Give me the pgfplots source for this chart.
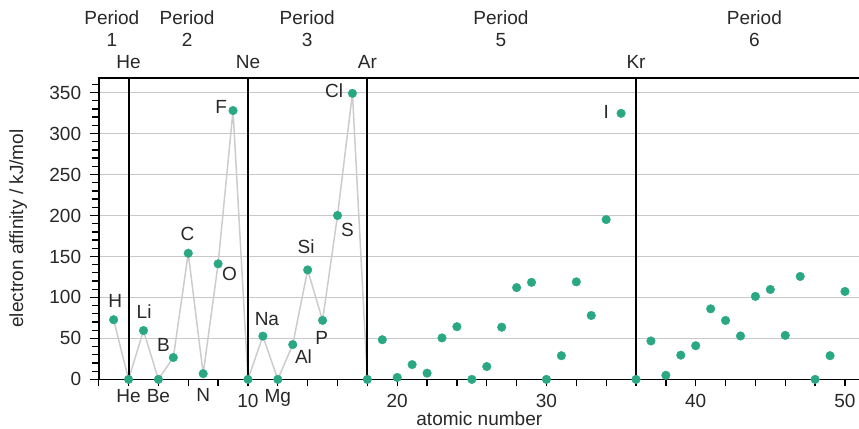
\documentclass[border=0pt]{standalone}
\usepackage{fontspec}
\setmainfont{Liberation Sans}
\usepackage{pgfplots}
\usepackage{pgfplotstable}
\pgfplotsset{compat=1.18}

\definecolor{ptgreen}{RGB}{42,168,132}
\definecolor{linegray}{RGB}{204,204,204}
\definecolor{gridgray}{RGB}{200,200,200}
\definecolor{txt}{RGB}{40,40,40}
\newcommand\dn[1]{\rule{0pt}{18.5pt}#1}

% atomic number, electron affinity (kJ/mol)
\pgfplotstableread{
z ea
1 72.8
2 0
3 59.6
4 0
5 26.7
6 153.9
7 7
8 141
9 328
10 0
11 52.8
12 0
13 42.5
14 133.6
15 72
16 200
17 349
18 0
19 48.4
20 2.4
21 18.1
22 7.6
23 50.6
24 64.3
25 0
26 15.7
27 63.7
28 112
29 118.4
30 0
31 28.9
32 119
33 78
34 195
35 324.6
36 0
37 46.9
38 5
39 29.6
40 41.1
41 86.1
42 71.9
43 53
44 101.3
45 109.7
46 53.7
47 125.6
48 0
49 28.9
50 107.3
}\eadata

\begin{document}
\fontsize{19}{22}\selectfont
\begin{tikzpicture}[every node/.style={text=txt}]
\begin{axis}[
  scale only axis,
  width=760.4pt, height=301.3pt,
  xmin=0, xmax=51, ymin=0, ymax=368,
  clip=false,
  axis line style={black, line width=1.6pt},
  xtick pos=bottom, ytick pos=left,
  tick align=outside,
  major tick style={black, line width=1.3pt},
  minor tick style={black, line width=1.3pt},
  major tick length=9pt, minor tick length=7pt,
  xtick={2,4,12}, xticklabels={He,Be,Mg},
  major x tick style={draw=none},
  minor xtick={0,2,...,50},
  xticklabel style={yshift=6pt},
  extra x ticks={10,20,30,40,50},
  extra x tick labels={\dn{10},\dn{20},\dn{30},\dn{40},\dn{50}},
  extra x tick style={major x tick style={draw=none}},
  ytick={0,50,...,350},
  minor ytick={10,20,...,360},
  yticklabel style={xshift=-2pt},
  ymajorgrids,
  /pgf/number format/assume math mode=true,
  major grid style={gridgray, line width=0.8pt},
  xlabel={atomic number},
  ylabel={electron affinity / kJ/mol},
  xlabel style={at={(axis description cs:0.5,0)}, anchor=base, yshift=-46pt},
  ylabel style={at={([xshift=-80.3pt]axis description cs:0,0.5)}, anchor=center},
]
% connecting line through periods 1-3
\addplot[linegray, line width=1.5pt, no marks, restrict x to domain=1:18] table[x=z, y=ea] {\eadata} ;
% noble gas separators
\addplot[ycomb, black, line width=2pt, no marks] coordinates {(2,368) (10,368) (18,368) (36,368)};
\addplot[only marks, mark=*, mark size=4.3pt, draw=ptgreen, fill=ptgreen] table[x=z, y=ea] {\eadata};

% tick-row label between ticks
\node[anchor=center] at ([yshift=-16pt]axis cs:7,0) {N};

% point labels
\node at (axis cs:1.10,95.7) {H};
\node at (axis cs:3.04,82.3) {Li};
\node at (axis cs:4.34,42.4) {B};
\node at (axis cs:5.95,177.3) {C};
\node at (axis cs:8.76,129.2) {O};
\node at (axis cs:8.20,332.9) {F};
\node at (axis cs:11.27,74.2) {Na};
\node at (axis cs:13.72,27.3) {Al};
\node at (axis cs:13.9,161.7) {Si};
\node at (axis cs:14.95,51) {P};
\node at (axis cs:16.67,182.2) {S};
\node at (axis cs:15.78,352.4) {Cl};
\node at (axis cs:34.0,326.4) {I};

% top labels
\node[yshift=15.4pt] at (axis cs:2,368) {He};
\node[yshift=15.4pt] at (axis cs:10,368) {Ne};
\node[yshift=15.4pt] at (axis cs:18,368) {Ar};
\node[yshift=15.4pt] at (axis cs:36,368) {Kr};
\node[align=center, yshift=49.4pt] at (axis cs:0.88,368) {Period\\1};
\node[align=center, yshift=49.4pt] at (axis cs:5.92,368) {Period\\2};
\node[align=center, yshift=49.4pt] at (axis cs:13.97,368) {Period\\3};
\node[align=center, yshift=49.4pt] at (axis cs:26.95,368) {Period\\5};
\node[align=center, yshift=49.4pt] at (axis cs:43.93,368) {Period\\6};
\end{axis}
\pgfresetboundingbox
\path (-98.6pt,-49pt) rectangle (759.5pt,379pt);
\end{tikzpicture}
\end{document}
